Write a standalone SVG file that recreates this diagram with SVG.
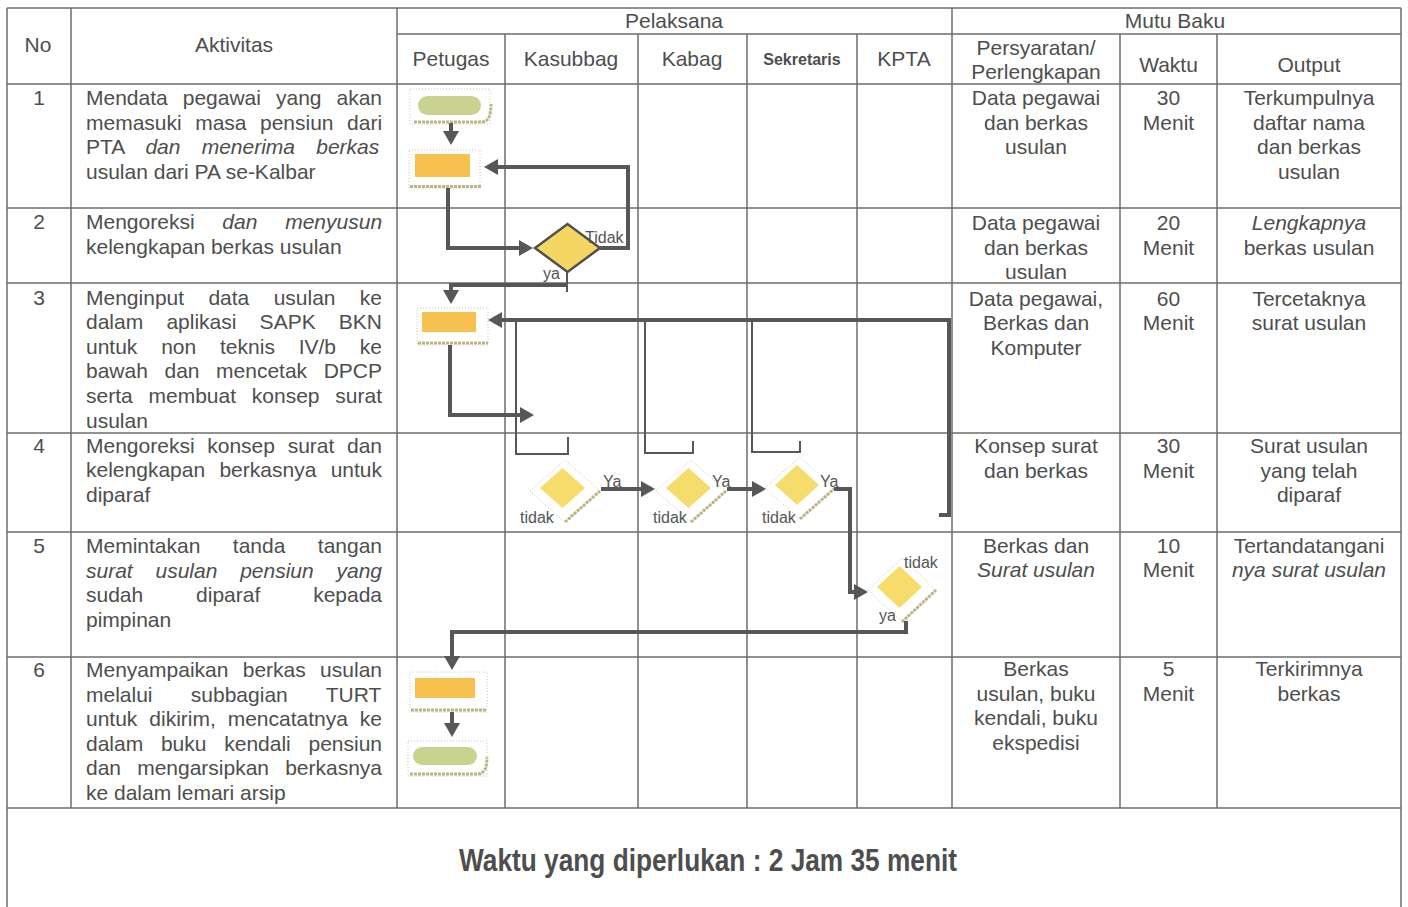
<svg xmlns="http://www.w3.org/2000/svg" width="1408" height="907" viewBox="0 0 1408 907">
<defs>
<style>
text{font-family:"Liberation Sans",Arial,sans-serif;fill:#4e4e4e;}
.t{font-size:21px;}
.m{text-anchor:middle;}
.i{font-style:italic;}
.lb{font-size:16px;fill:#555;}
.g{stroke:#6e6e6e;stroke-width:1.5;fill:none;}
.cn{fill:none;stroke:#575757;stroke-width:4;}
.cn2{fill:none;stroke:#575757;stroke-width:2;}
.fr{fill:#fff;stroke:#c4c4c4;stroke-width:1;stroke-dasharray:1 2;}
.ed{fill:none;stroke:#bdb580;stroke-width:3;stroke-dasharray:3 1;}
.term{fill:#c9d28e;}
.proc{fill:#f6c14f;}
.dec{fill:#f6dc6a;}
</style>
<marker id="ah" viewBox="0 0 14 16" refX="10" refY="8" markerWidth="14" markerHeight="16" markerUnits="userSpaceOnUse" orient="auto"><path d="M0,0L14,8L0,16z" fill="#575757"/></marker>
</defs>
<rect width="1408" height="907" fill="#fff"/>

<g id="grid">
<path class="g" d="M7,8H1401 M397,34H1401 M7,84H1401 M7,208H1401 M7,283H1401 M7,433H1401 M7,532H1401 M7,657H1401"/>
<path class="g" d="M7,808H1401" stroke-width="2"/>
<path class="g" d="M7,8V907 M1401,8V907 M71,8V808 M397,8V808 M952,8V808 M505,34V808 M638,34V808 M747,34V808 M857,34V808 M1120,34V808 M1217,34V808"/>
</g>

<g id="header">
<text class="t m" x="38" y="52">No</text>
<text class="t m" x="234" y="52">Aktivitas</text>
<text class="t m" x="674" y="28">Pelaksana</text>
<text class="t m" x="1175" y="28">Mutu Baku</text>
<text class="t m" x="451" y="66">Petugas</text>
<text class="t m" x="571" y="66">Kasubbag</text>
<text class="t m" x="692" y="66">Kabag</text>
<text class="m" x="802" y="64.5" font-size="16" font-weight="bold" fill="#5a5a5a">Sekretaris</text>
<text class="t m" x="904" y="66">KPTA</text>
<text class="t m" x="1036" y="55">Persyaratan/</text>
<text class="t m" x="1036" y="78.5">Perlengkapan</text>
<text class="t m" x="1168.5" y="71.5">Waktu</text>
<text class="t m" x="1309" y="71.5">Output</text>
</g>

<g id="col-no">
<text class="t m" x="39" y="105">1</text>
<text class="t m" x="39" y="229">2</text>
<text class="t m" x="39" y="304.5">3</text>
<text class="t m" x="39" y="452.5">4</text>
<text class="t m" x="39" y="553">5</text>
<text class="t m" x="39" y="677">6</text>
</g>

<g id="col-aktivitas">
<text class="t" x="86" y="105" word-spacing="9.17">Mendata pegawai yang akan</text>
<text class="t" x="86" y="129.6" word-spacing="7.64">memasuki masa pensiun dari</text>
<text class="t" x="86" y="154.2" word-spacing="15.41">PTA <tspan class="i">dan menerima berkas</tspan></text>
<text class="t" x="86" y="178.8">usulan dari PA se-Kalbar</text>

<text class="t" x="86" y="229" word-spacing="21.95">Mengoreksi <tspan class="i">dan menyusun</tspan></text>
<text class="t" x="86" y="253.6">kelengkapan berkas usulan</text>

<text class="t" x="86" y="304.5" word-spacing="18.51">Menginput data usulan ke</text>
<text class="t" x="86" y="329.1" word-spacing="17.36">dalam aplikasi SAPK BKN</text>
<text class="t" x="86" y="353.7" word-spacing="17.97">untuk non teknis IV/b ke</text>
<text class="t" x="86" y="378.3" word-spacing="10.74">bawah dan mencetak DPCP</text>
<text class="t" x="86" y="402.9" word-spacing="9.96">serta membuat konsep surat</text>
<text class="t" x="86" y="427.5">usulan</text>

<text class="t" x="86" y="452.5" word-spacing="6.85">Mengoreksi konsep surat dan</text>
<text class="t" x="86" y="477.1" word-spacing="8.51">kelengkapan berkasnya untuk</text>
<text class="t" x="86" y="501.7">diparaf</text>

<text class="t" x="86" y="553" word-spacing="26.6">Memintakan tanda tangan</text>
<text class="t i" x="86" y="577.6" word-spacing="16.95">surat usulan pensiun yang</text>
<text class="t" x="86" y="602.2" word-spacing="47.02">sudah diparaf kepada</text>
<text class="t" x="86" y="626.8">pimpinan</text>

<text class="t" x="86" y="677" word-spacing="8.5">Menyampaikan berkas usulan</text>
<text class="t" x="86" y="701.6" word-spacing="32.47">melalui subbagian TURT</text>
<text class="t" x="86" y="726.2" word-spacing="6.08">untuk dikirim, mencatatnya ke</text>
<text class="t" x="86" y="750.8" word-spacing="11.9">dalam buku kendali pensiun</text>
<text class="t" x="86" y="775.4" word-spacing="10.27">dan mengarsipkan berkasnya</text>
<text class="t" x="86" y="800">ke dalam lemari arsip</text>
</g>

<g id="col-persyaratan">
<text class="t m" x="1036" y="105">Data pegawai</text>
<text class="t m" x="1036" y="129.6">dan berkas</text>
<text class="t m" x="1036" y="154.2">usulan</text>
<text class="t m" x="1036" y="230">Data pegawai</text>
<text class="t m" x="1036" y="254.6">dan berkas</text>
<text class="t m" x="1036" y="279.2">usulan</text>
<text class="t m" x="1036" y="305.5">Data pegawai,</text>
<text class="t m" x="1036" y="330.1">Berkas dan</text>
<text class="t m" x="1036" y="354.7">Komputer</text>
<text class="t m" x="1036" y="453">Konsep surat</text>
<text class="t m" x="1036" y="477.6">dan berkas</text>
<text class="t m" x="1036" y="552.5">Berkas dan</text>
<text class="t m i" x="1036" y="577.1">Surat usulan</text>
<text class="t m" x="1036" y="676">Berkas</text>
<text class="t m" x="1036" y="700.6">usulan, buku</text>
<text class="t m" x="1036" y="725.2">kendali, buku</text>
<text class="t m" x="1036" y="749.8">ekspedisi</text>
</g>

<g id="col-waktu">
<text class="t m" x="1168.5" y="105">30</text>
<text class="t m" x="1168.5" y="129.6">Menit</text>
<text class="t m" x="1168.5" y="230">20</text>
<text class="t m" x="1168.5" y="254.6">Menit</text>
<text class="t m" x="1168.5" y="305.5">60</text>
<text class="t m" x="1168.5" y="330.1">Menit</text>
<text class="t m" x="1168.5" y="453">30</text>
<text class="t m" x="1168.5" y="477.6">Menit</text>
<text class="t m" x="1168.5" y="552.5">10</text>
<text class="t m" x="1168.5" y="577.1">Menit</text>
<text class="t m" x="1168.5" y="676">5</text>
<text class="t m" x="1168.5" y="700.6">Menit</text>
</g>

<g id="col-output">
<text class="t m" x="1309" y="105">Terkumpulnya</text>
<text class="t m" x="1309" y="129.6">daftar nama</text>
<text class="t m" x="1309" y="154.2">dan berkas</text>
<text class="t m" x="1309" y="178.8">usulan</text>
<text class="t m i" x="1309" y="230">Lengkapnya</text>
<text class="t m" x="1309" y="254.6">berkas usulan</text>
<text class="t m" x="1309" y="305.5">Tercetaknya</text>
<text class="t m" x="1309" y="330.1">surat usulan</text>
<text class="t m" x="1309" y="453">Surat usulan</text>
<text class="t m" x="1309" y="477.6">yang telah</text>
<text class="t m" x="1309" y="502.2">diparaf</text>
<text class="t m" x="1309" y="552.5">Tertandatangani</text>
<text class="t m i" x="1309" y="577.1">nya surat usulan</text>
<text class="t m" x="1309" y="676">Terkirimnya</text>
<text class="t m" x="1309" y="700.6">berkas</text>
</g>

<g id="n-start">
<rect class="fr" x="410" y="89" width="80" height="35"/>
<path class="ed" d="M414,122H482Q491,122 491,104"/>
<rect class="term" x="418" y="96" width="63" height="19" rx="9.5"/>
</g>
<g id="n-proc1">
<rect class="fr" x="409" y="150" width="71" height="38"/>
<path class="ed" d="M410,186.5H481"/>
<rect class="proc" x="415" y="154" width="55" height="23"/>
</g>
<g id="n-dec1">
<polygon points="535,248 567.5,224 600,248 567.5,272" fill="#f4d763" stroke="#505050" stroke-width="2.5"/>
</g>
<g id="n-proc2">
<rect class="fr" x="417" y="308" width="71" height="37"/>
<path class="ed" d="M418,343H488"/>
<rect class="proc" x="422" y="312" width="54" height="20"/>
</g>
<g id="n-dec2">
<polygon class="fr" points="530,491 565,460 600,491 565,522"/>
<path class="ed" d="M565,522L600,491"/>
<polygon class="dec" points="540,488 562.5,468 585,488 562.5,508"/>
</g>
<g id="n-dec3">
<polygon class="fr" points="656,491 691,460 726,491 691,522"/>
<path class="ed" d="M691,522L726,491"/>
<polygon class="dec" points="666,488 688.5,468 711,488 688.5,508"/>
</g>
<g id="n-dec4">
<polygon class="fr" points="765,488 800,457 835,488 800,519"/>
<path class="ed" d="M800,519L835,488"/>
<polygon class="dec" points="775,485 797,465 819,485 797,505"/>
</g>
<g id="n-dec5">
<polygon class="fr" points="868,590 902,558 936,590 902,622"/>
<path class="ed" d="M902,622L936,590"/>
<polygon class="dec" points="877,587 899.5,566 922,587 899.5,608"/>
</g>
<g id="n-proc3">
<rect class="fr" x="410" y="672" width="77" height="40"/>
<path class="ed" d="M411,710H487"/>
<rect class="proc" x="415" y="678" width="60" height="20"/>
</g>
<g id="n-end">
<rect class="fr" x="408" y="741" width="79" height="35"/>
<path class="ed" d="M410,774H478Q487,774 487,757"/>
<rect class="term" x="413" y="747" width="64" height="18" rx="9"/>
</g>

<g id="connectors">
<path class="cn" d="M451,123V141" marker-end="url(#ah)"/>
<path class="cn" d="M448,188V248H529" marker-end="url(#ah)"/>
<path class="cn" d="M600,248H628V167H488" marker-end="url(#ah)"/>
<path class="cn2" d="M567,272V292"/>
<path class="cn" stroke-width="3" d="M567,285H451V300" marker-end="url(#ah)"/>
<path class="cn" d="M450,345V415H530" marker-end="url(#ah)"/>
<path class="cn" d="M939,515H949V320H492" marker-end="url(#ah)"/>
<path class="cn2" d="M516,320V454H568V437"/>
<path class="cn2" d="M645,320V453H693V441"/>
<path class="cn2" d="M752,320V452H800V441"/>
<path class="cn" stroke-width="5" d="M601,489H651" marker-end="url(#ah)"/>
<path class="cn" stroke-width="5" d="M727,489H762" marker-end="url(#ah)"/>
<path class="cn" d="M834,489H850V592H864" marker-end="url(#ah)"/>
<path class="cn" d="M906,621V632H452V666" marker-end="url(#ah)"/>
<path class="cn" d="M452,712V733" marker-end="url(#ah)"/>
</g>

<g id="connector-labels">
<text class="lb" x="585" y="243">Tidak</text>
<text class="lb" x="543" y="279">ya</text>
<text class="lb" x="603" y="487">Ya</text>
<text class="lb" x="712" y="487">Ya</text>
<text class="lb" x="820" y="487">Ya</text>
<text class="lb" x="520" y="523">tidak</text>
<text class="lb" x="653" y="523">tidak</text>
<text class="lb" x="762" y="523">tidak</text>
<text class="lb" x="904" y="568">tidak</text>
<text class="lb" x="879" y="621">ya</text>
</g>

<g id="footer">
<text x="708" y="871" font-size="31" font-weight="bold" text-anchor="middle" textLength="498" lengthAdjust="spacingAndGlyphs" fill="#4a4a4a">Waktu yang diperlukan : 2 Jam 35 menit</text>
</g>
</svg>
